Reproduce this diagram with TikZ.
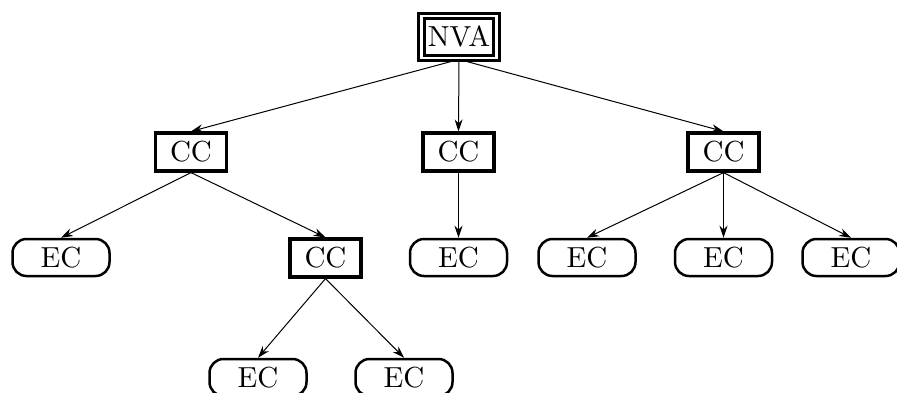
\documentclass[tikz,border=0pt]{standalone}
\usetikzlibrary{arrows.meta}
\font\bigrm=cmr10 at 29pt
\begin{document}
\begin{tikzpicture}[x=1pt,y=-1pt,
  every node/.style={font=\bigrm, inner sep=0pt},
  topbox/.style={draw, double, line width=2.8pt, double distance=2.6pt, minimum width=75pt, minimum height=42pt},
  ccbox/.style={draw, line width=3.2pt, minimum width=71pt, minimum height=38pt},
  ecbox/.style={draw, line width=2.5pt, rounded corners=14pt, minimum width=97pt, minimum height=37pt},
  conn/.style={line width=1pt, -{Stealth[length=12pt,width=8pt]}}]
\useasboundingbox (0,0) rectangle (897,392);
\node[topbox] (nva) at (459,37) {NVA};
\node[ccbox] (cc1) at (191,152) {CC};
\node[ccbox] (cc2) at (458.5,152) {CC};
\node[ccbox] (cc3) at (723.5,152) {CC};
\node[ecbox] (ec1) at (61,257.5) {EC};
\node[ccbox] (cc4) at (325.5,258) {CC};
\node[ecbox] (ec2) at (458.5,257.5) {EC};
\node[ecbox] (ec3) at (587,257.5) {EC};
\node[ecbox] (ec4) at (723.5,257.5) {EC};
\node[ecbox] (ec5) at (851,257.5) {EC};
\node[ecbox] (ec6) at (258,377.5) {EC};
\node[ecbox] (ec7) at (404,377.5) {EC};
\draw[conn] (nva.south) -- (cc1.north);
\draw[conn] (nva.south) -- (cc2.north);
\draw[conn] (nva.south) -- (cc3.north);
\draw[conn] (cc1.south) -- (ec1.north);
\draw[conn] (cc1.south) -- (cc4.north);
\draw[conn] (cc2.south) -- (ec2.north);
\draw[conn] (cc3.south) -- (ec3.north);
\draw[conn] (cc3.south) -- (ec4.north);
\draw[conn] (cc3.south) -- (ec5.north);
\draw[conn] (cc4.south) -- (ec6.north);
\draw[conn] (cc4.south) -- (ec7.north);
\end{tikzpicture}
\end{document}
